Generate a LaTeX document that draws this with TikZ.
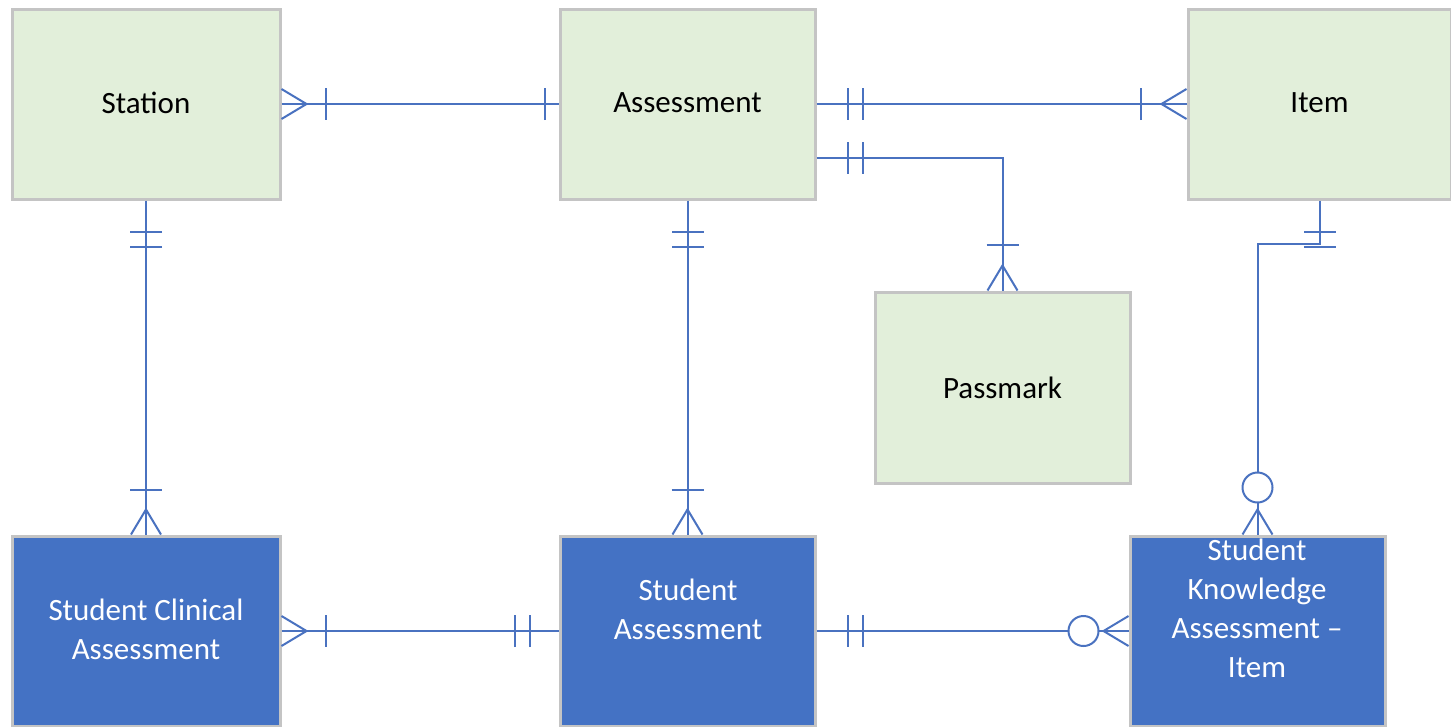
\documentclass[tikz,border=0pt]{standalone}
\usepackage{fontspec}
\setmainfont{Carlito}
\usetikzlibrary{calc}
\definecolor{gfill}{HTML}{E2EFDA}
\definecolor{bfill}{HTML}{4472C4}
\definecolor{bordergray}{HTML}{C4C4C4}
\definecolor{conncol}{HTML}{4A72C0}
\tikzset{
  ent/.style={draw=bordergray, line width=3pt, fill=gfill, rectangle, inner sep=0pt,
    font=\fontsize{31}{39}\selectfont, text=black},
  strong/.style={ent, fill=bfill},
  wlabel/.style={font=\fontsize{31}{39}\selectfont, text=white, align=center, inner sep=0pt},
  conn/.style={draw=conncol, line width=2pt},
  pics/crow/.style={code={\draw[conn] (0,-15) -- (25,0) -- (0,15);}},
  pics/erbar/.style={code={\draw[conn] (#1,-16) -- (#1,16);}},
  pics/ercirc/.style={code={\draw[conn, fill=white] (#1,0) circle[radius=15pt];}},
}
\begin{document}
\begin{tikzpicture}[x=1pt, y=-1pt]
\useasboundingbox (0,0) rectangle (1451,726);
% entities
\node[ent, minimum width=268pt, minimum height=190pt] (station) at (146,104) {\raisebox{2pt}{Station}};
\node[ent, minimum width=255pt, minimum height=190pt] (assess) at (687.5,104) {\raisebox{2pt}{Assessment}};
\node[ent, minimum width=263pt, minimum height=190pt] (item) at (1319.5,104) {\raisebox{2pt}{Item}};
\node[ent, minimum width=255pt, minimum height=191pt] (passmark) at (1002.5,387.5) {Passmark};
\node[strong, minimum width=268pt, minimum height=190pt] (sca) at (146,631) {};
\node[strong, minimum width=255pt, minimum height=190pt] (sa) at (687.5,631) {};
\node[strong, minimum width=255pt, minimum height=190pt] (ska) at (1257.5,631) {};
\node[wlabel] (scatext) at (146,629) {Student Clinical\\Assessment};
\node[wlabel] (satext) at (688,609) {Student\\Assessment};
\node[wlabel] (skatext) at (1257,608) {Student\\Knowledge\\Assessment –\\Item};
% connectors
\draw[conn] (station.east) -- (assess.west);
\draw[conn] (assess.east) -- (item.west);
\coordinate (apm) at ($(assess.east)+(0,54)$);
\draw[conn] (apm) -| (passmark.north);
\draw[conn] (item.south) -- ++(0,43) -| (ska.north);
\draw[conn] (station.south) -- (sca.north);
\draw[conn] (assess.south) -- (sa.north);
\draw[conn] (sca.east) -- (sa.west);
\draw[conn] (sa.east) -- (ska.west);
% markers: Station - Assessment
\pic at (station.east) {crow};
\pic at (station.east) {erbar=44};
\pic[rotate=180] at (assess.west) {erbar=14};
% Assessment - Item
\pic at (assess.east) {erbar=31};
\pic at (assess.east) {erbar=46};
\pic[rotate=180] at (item.west) {erbar=46};
\pic[rotate=180] at (item.west) {crow};
% Assessment - Passmark
\pic at (apm) {erbar=31};
\pic at (apm) {erbar=46};
\pic[rotate=90] at (passmark.north) {erbar=46};
\pic[rotate=90] at (passmark.north) {crow};
% Item - SKA
\pic[rotate=-90] at (item.south) {erbar=31};
\pic[rotate=-90] at (item.south) {erbar=46};
\pic[rotate=90] at (ska.north) {crow};
\pic[rotate=90] at (ska.north) {ercirc=47};
% Station - SCA
\pic[rotate=-90] at (station.south) {erbar=31};
\pic[rotate=-90] at (station.south) {erbar=46};
\pic[rotate=90] at (sca.north) {erbar=45};
\pic[rotate=90] at (sca.north) {crow};
% Assessment - SA
\pic[rotate=-90] at (assess.south) {erbar=31};
\pic[rotate=-90] at (assess.south) {erbar=46};
\pic[rotate=90] at (sa.north) {erbar=45};
\pic[rotate=90] at (sa.north) {crow};
% SCA - SA
\pic at (sca.east) {crow};
\pic at (sca.east) {erbar=44};
\pic[rotate=180] at (sa.west) {erbar=29};
\pic[rotate=180] at (sa.west) {erbar=44};
% SA - SKA
\pic at (sa.east) {erbar=31};
\pic at (sa.east) {erbar=46};
\pic[rotate=180] at (ska.west) {crow};
\pic[rotate=180] at (ska.west) {ercirc=45};
\end{tikzpicture}
\end{document}
